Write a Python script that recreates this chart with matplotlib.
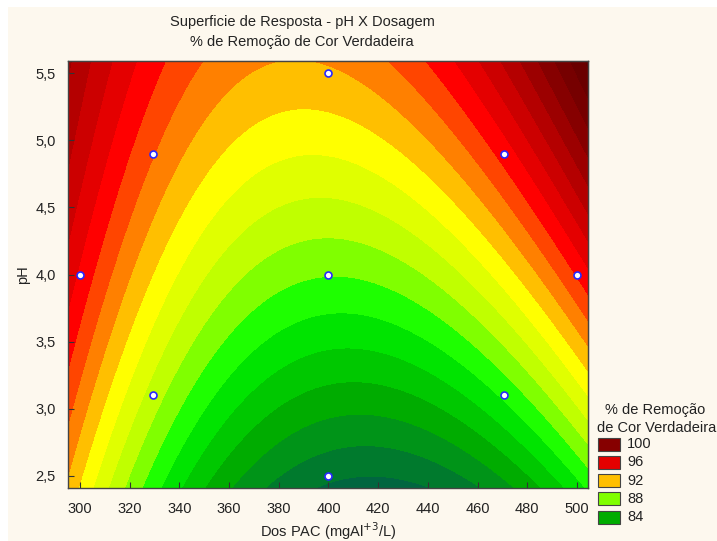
import numpy as np
import matplotlib.pyplot as plt
from matplotlib.colors import ListedColormap, BoundaryNorm
from matplotlib.patches import Rectangle

plt.rcParams['font.family'] = ['Liberation Sans', 'DejaVu Sans']

# planned experiment (dose of PAC, pH)
dose = [300, 329.3, 329.3, 400, 400, 400, 470.7, 470.7, 500]
ph = [4.0, 3.1, 4.9, 2.5, 4.0, 5.5, 3.1, 4.9, 4.0]

# second order model in coded units: xc = (dose-400)/100, pc = pH-4
# b0, b_x, b_p, b_xx, b_pp, b_xp
coef = [88.05, -0.35, 3.54, 7.4, -0.23, 1.45]

levels = list(range(80, 104))
band_colors = ['#005C44', '#006640', '#007A2D', '#009418', '#00AC00', '#00C800',
               '#00E400', '#1EFF00', '#80FF00', '#C0FF00', '#E0FF00', '#FFFF00',
               '#FFBF00', '#FF8000', '#FF4500', '#FF0000', '#E40000', '#CC0000',
               '#B40000', '#9C0000', '#860000', '#760000', '#6A0000']
under_color = '#005248'
over_color = '#600000'

legend_levels = [100, 96, 92, 88, 84]

cream = '#FDF8EE'
W, H = 717, 541

xs = np.linspace(295.2, 504.4, 300)
ys = np.linspace(2.41, 5.59, 300)
X, Y = np.meshgrid(xs, ys)
xc = (X - 400) / 100
pc = Y - 4
b0, bx, bp, bxx, bpp, bxp = coef
Z = b0 + bx*xc + bp*pc + bxx*xc**2 + bpp*pc**2 + bxp*xc*pc

cmap = ListedColormap(band_colors)
cmap.set_under(under_color)
cmap.set_over(over_color)
norm = BoundaryNorm(levels, cmap.N)

fig = plt.figure(figsize=(W/100, H/100), dpi=100)
fig.patch.set_facecolor('white')
fig.patches.append(Rectangle((8/W, 0), 1, 1 - 7/H, transform=fig.transFigure,
                             facecolor=cream, edgecolor='none', zorder=-10))

ax = fig.add_axes([68/W, 53/H, 520/W, 427/H])
ax.contourf(X, Y, Z, levels=levels, cmap=cmap, norm=norm, extend='both')
ax.plot(dose, ph, 'o', ms=5, mfc='white', mec='#2828FF', mew=1.2, zorder=5)

ax.set_xlim(295.2, 504.4)
ax.set_ylim(2.41, 5.59)
ax.set_xticks(range(300, 501, 20))
yt = [2.5, 3.0, 3.5, 4.0, 4.5, 5.0, 5.5]
ax.set_yticks(yt)
ax.set_yticklabels([f'{v:.1f}'.replace('.', ',') for v in yt])
ax.tick_params(direction='in', length=4, width=0.8, labelsize=10.5, colors='#333333',
               labelcolor='#222222')
ax.tick_params(axis='x', pad=10)
ax.tick_params(axis='y', pad=9)
for s in ax.spines.values():
    s.set_color('#444444')
    s.set_linewidth(1)

# mirrored axes with their own spacing
top = ax.secondary_xaxis('top')
top.set_xticks([400 + 17.5*k for k in range(-5, 6)])
top.tick_params(direction='in', length=4, width=0.8, labeltop=False, colors='#333333')
right = ax.secondary_yaxis('right')
right.set_yticks([4.0 + 0.6*k for k in range(-2, 3)])
right.tick_params(direction='in', length=4, width=0.8, labelright=False, colors='#333333')

ax.set_xlabel('Dos PAC (mgAl$^{+3}$/L)', fontsize=10.5, color='#222222', labelpad=3)
ax.set_ylabel('pH', fontsize=10.5, color='#222222', labelpad=4)

fig.text(302/W, 1 - 22/H, 'Superficie de Resposta - pH X Dosagem',
         ha='center', va='center', fontsize=10.5, color='#222222')
fig.text(302/W, 1 - 42/H, '% de Remoção de Cor Verdadeira',
         ha='center', va='center', fontsize=10.5, color='#222222')

# legend drawn by hand next to the plot
fig.text(655/W, 1 - 410/H, '% de Remoção', ha='center', va='center',
         fontsize=10.5, color='#222222')
fig.text(657/W, 1 - 428/H, 'de Cor Verdadeira', ha='center', va='center',
         fontsize=10.5, color='#222222')
for i, lv in enumerate(legend_levels):
    yc = 444 + 18.3*i
    fig.patches.append(Rectangle((598/W, 1 - (yc + 6.5)/H), 22/W, 13/H,
                                 transform=fig.transFigure,
                                 facecolor=band_colors[levels.index(lv)],
                                 edgecolor='#444444', linewidth=0.8))
    fig.text(627/W, 1 - yc/H, str(lv), ha='left', va='center',
             fontsize=10.5, color='#222222')

fig.savefig('out.png', dpi=100, facecolor=fig.get_facecolor())
